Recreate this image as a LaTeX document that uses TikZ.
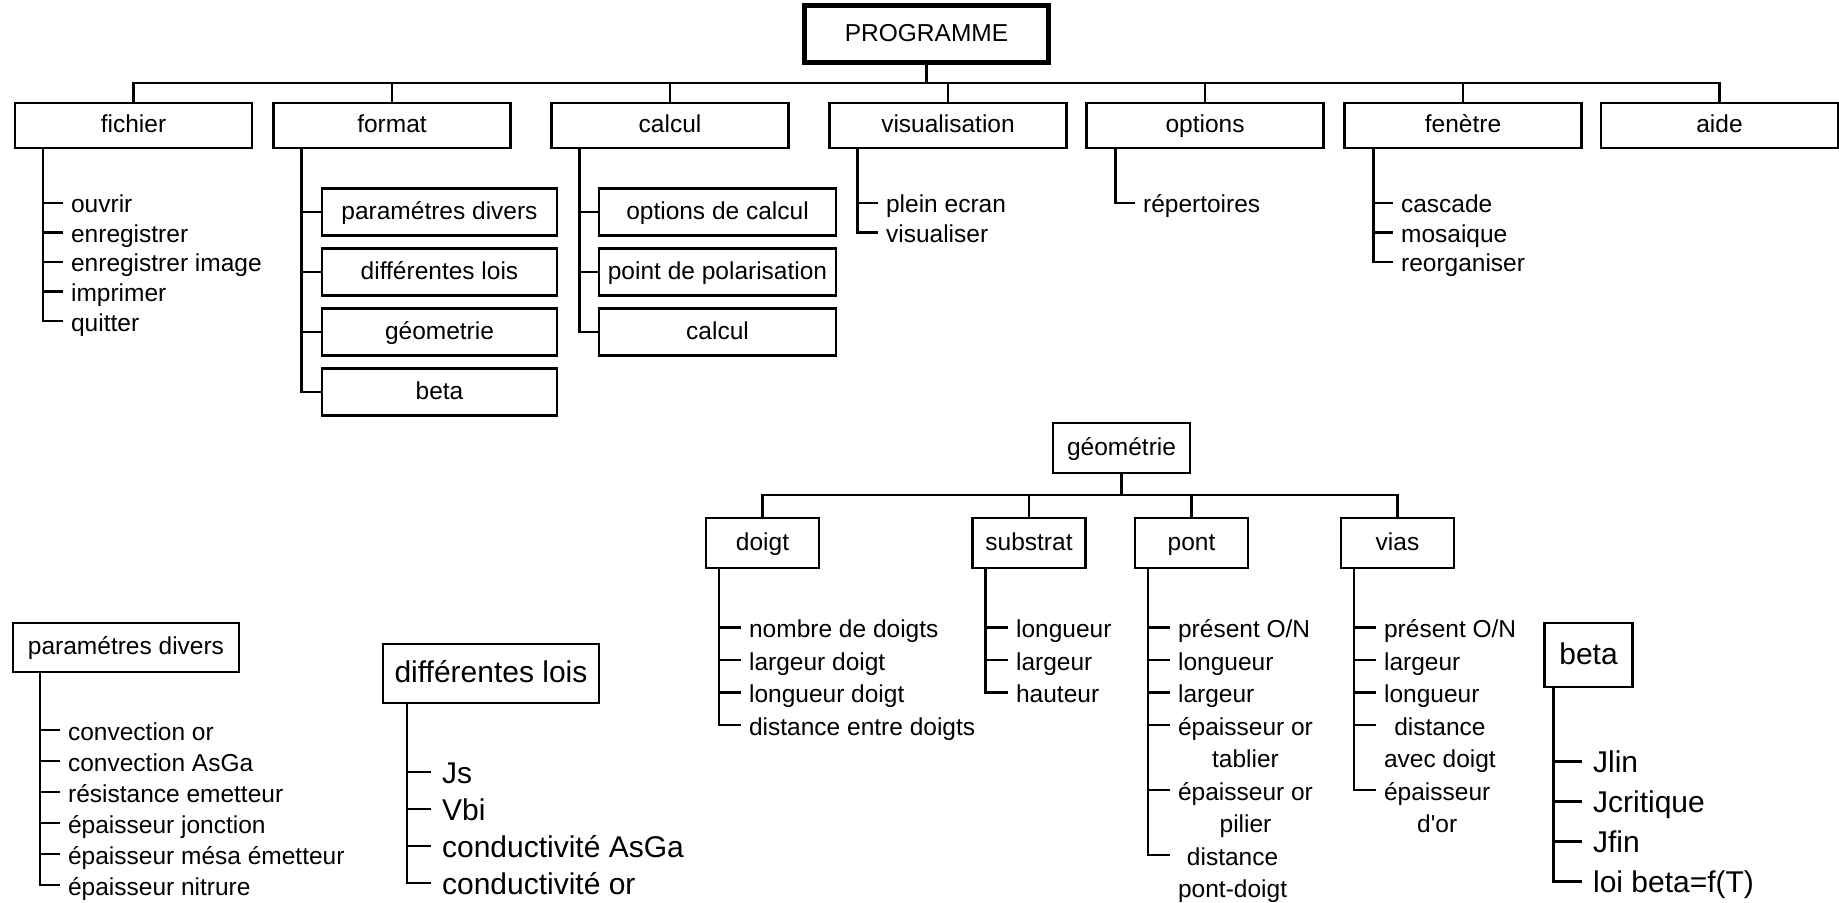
\documentclass[tikz,border=0pt]{standalone}
\usepackage{fontspec}
\setmainfont{Liberation Sans}[Ligatures=TeXOff]
\newcommand{\menufont}{\fontsize{12.25}{14.5}\selectfont}
\newcommand{\bigmenufont}{\fontsize{15}{18}\selectfont}
\tikzset{
  menu/.style={draw, inner sep=0pt, text height=8.8pt, text depth=1.5pt, font=\menufont},
  bigmenu/.style={menu, text height=10.8pt, text depth=1.5pt, font=\bigmenufont},
  item/.style={anchor=base west, inner xsep=3.5pt, inner ysep=0pt, font=\menufont},
  bigitem/.style={item, inner xsep=5pt, font=\bigmenufont},
  under/.style={anchor=base, inner sep=0pt, font=\menufont}
}
\begin{document}
\begin{tikzpicture}[x=0.5pt, y=-0.5pt, line width=1.1pt]
      \fill[white] (0,0) rectangle (1839,903);
      \useasboundingbox (0,0) rectangle (1839,903);
      \node[menu, line width=2pt, minimum width=122.5pt, minimum height=29pt] (prog) at (926.5,34) {PROGRAMME};
      \draw[line width=0.6pt] ([shift={(2.2pt,-2.2pt)}]prog.north west) rectangle ([shift={(-2.2pt,2.2pt)}]prog.south east);
      \foreach \n/\t/\x in {fichier/fichier/133.5, format/format/392, calcul/calcul/670,
          visu/visualisation/948, options/options/1205, fenetre/fenètre/1463, aide/aide/1719.5}
        \node[menu, minimum width=118.5pt, minimum height=22.5pt] (\n) at (\x,125.5) {\t};
      \foreach \n/\t [count=\i] in {fpar/paramétres divers, flois/différentes lois, fgeo/géometrie, fbeta/beta}
        \node[menu, minimum width=117.5pt, minimum height=23.5pt] (\n) at (439.5,152+60*\i) {\t};
      \foreach \n/\t [count=\i] in {copt/options de calcul, cpol/point de polarisation, ccal/calcul}
        \node[menu, minimum width=118.5pt, minimum height=23.5pt] (\n) at (717.5,152+60*\i) {\t};
      \foreach \t [count=\i] in {ouvrir, enregistrer, enregistrer image, imprimer, quitter}
        \node[item] (fi\i) at (63,183.5+29.5*\i) {\t};
      \foreach \t [count=\i] in {plein ecran, visualiser}
        \node[item] (vi\i) at (878,183.5+29.5*\i) {\t};
      \node[item] (op1) at (1135,213) {répertoires};
      \foreach \t [count=\i] in {cascade, mosaique, reorganiser}
        \node[item] (fe\i) at (1393,183.5+29.5*\i) {\t};
      \node[menu, minimum width=68.5pt, minimum height=25pt] (geo) at (1121.5,448) {géométrie};
      \foreach \n/\x in {doigt/762.5, substrat/1029, pont/1191.5, vias/1397.5}
        \node[menu, minimum width=56.5pt, minimum height=25pt] (\n) at (\x,543) {\n};
      \foreach \t [count=\i] in {nombre de doigts, largeur doigt, longueur doigt, distance entre doigts}
        \node[item] (do\i) at (741,605+32.5*\i) {\t};
      \foreach \t [count=\i] in {longueur, largeur, hauteur}
        \node[item] (su\i) at (1008,605+32.5*\i) {\t};
      \foreach \t [count=\i] in {présent O/N, longueur, largeur, épaisseur or}
        \node[item] (po\i) at (1170,605+32.5*\i) {\t};
      \node[under] (po4b) at ([yshift=-16.25pt]po4.base) {tablier};
      \node[item] (po5) at (1170,800) {épaisseur or};
      \node[under] (po5b) at ([yshift=-16.25pt]po5.base) {pilier};
      \node[item] (po6b) at (1170,897.5) {pont-doigt};
      \node[under] (po6) at ([yshift=16.25pt]po6b.base) {distance};
      \foreach \t [count=\i] in {présent O/N, largeur, longueur}
        \node[item] (vs\i) at (1376,605+32.5*\i) {\t};
      \node[item] (vs4b) at (1376,767.5) {avec doigt};
      \node[under] (vs4) at ([yshift=16.25pt]vs4b.base) {distance};
      \node[item] (vs5) at (1376,800) {épaisseur};
      \node[under] (vs5b) at ([yshift=-16.25pt]vs5.base) {d'or};
      \node[menu, minimum width=113pt, minimum height=24.5pt] (pdiv) at (126,647.5) {paramétres divers};
      \foreach \t [count=\i] in {convection or, convection AsGa, résistance emetteur, épaisseur jonction,
          épaisseur mésa émetteur, épaisseur nitrure}
        \node[item] (pd\i) at (60,709+31*\i) {\t};
      \node[bigmenu, minimum width=108pt, minimum height=29.5pt] (dlois) at (491,673.5) {différentes lois};
      \foreach \t [count=\i] in {Js, Vbi, conductivité AsGa, conductivité or}
        \node[bigitem] (dl\i) at (431,746+37*\i) {\t};
      \node[bigmenu, minimum width=44pt, minimum height=32pt] (bbeta) at (1588.5,655) {beta};
      \foreach \t [count=\i] in {Jlin, Jcritique, Jfin, loi beta=f(T)}
        \node[bigitem] (bt\i) at (1582,732.5+40*\i) {\t};
      \coordinate (bus) at (0,83);
      \coordinate (gbus) at (0,495);
      \coordinate (fv) at ([xshift=14.5pt]format.south west);
      \coordinate (cv) at ([xshift=14.5pt]calcul.south west);
      \coordinate (fiv) at ([xshift=14.5pt]fichier.south west);
      \coordinate (viv) at ([xshift=14.5pt]visu.south west);
      \coordinate (opv) at ([xshift=15pt]options.south west);
      \coordinate (fev) at ([xshift=15pt]fenetre.south west);
      \coordinate (dov) at ([xshift=7pt]doigt.south west);
      \coordinate (suv) at ([xshift=7pt]substrat.south west);
      \coordinate (pov) at ([xshift=7pt]pont.south west);
      \coordinate (vsv) at ([xshift=7pt]vias.south west);
      \coordinate (pdv) at ([xshift=14pt]pdiv.south west);
      \coordinate (dlv) at ([xshift=12.5pt]dlois.south west);
      \coordinate (btv) at ([xshift=5pt]bbeta.south west);
      \begin{scope}[-]
        \draw (prog.south) -- (prog.south |- bus);
        \draw (fichier.north) |- (aide.north |- bus) -- (aide.north);
        \foreach \n in {format,calcul,visu,options,fenetre}
          \draw (\n.north) -- (\n.north |- bus);
        \draw (fv) |- (fbeta.west);
        \foreach \n in {fpar,flois,fgeo}
          \draw (\n.west) -- (\n.west -| fv);
        \draw (cv) |- (ccal.west);
        \foreach \n in {copt,cpol}
          \draw (\n.west) -- (\n.west -| cv);
        \draw (fiv) |- ([yshift=5pt]fi5.base west);
        \foreach \i in {1,...,4}
          \draw ([yshift=5pt]fi\i.base west) -- ([yshift=5pt]fi\i.base west -| fiv);
        \draw (viv) |- ([yshift=5pt]vi2.base west);
        \draw ([yshift=5pt]vi1.base west) -- ([yshift=5pt]vi1.base west -| viv);
        \draw (opv) |- ([yshift=5pt]op1.base west);
        \draw (fev) |- ([yshift=5pt]fe3.base west);
        \foreach \i in {1,2}
          \draw ([yshift=5pt]fe\i.base west) -- ([yshift=5pt]fe\i.base west -| fev);
        \draw (geo.south) -- (geo.south |- gbus);
        \draw (doigt.north) |- (vias.north |- gbus) -- (vias.north);
        \foreach \n in {substrat,pont}
          \draw (\n.north) -- (\n.north |- gbus);
        \draw (dov) |- ([yshift=5pt]do4.base west);
        \foreach \i in {1,2,3}
          \draw ([yshift=5pt]do\i.base west) -- ([yshift=5pt]do\i.base west -| dov);
        \draw (suv) |- ([yshift=5pt]su3.base west);
        \foreach \i in {1,2}
          \draw ([yshift=5pt]su\i.base west) -- ([yshift=5pt]su\i.base west -| suv);
        \draw (pov) |- ([yshift=21.25pt]po6b.base west);
        \foreach \n in {po1,po2,po3,po4,po5}
          \draw ([yshift=5pt]\n.base west) -- ([yshift=5pt]\n.base west -| pov);
        \draw (vsv) |- ([yshift=5pt]vs5.base west);
        \foreach \n in {vs1,vs2,vs3}
          \draw ([yshift=5pt]\n.base west) -- ([yshift=5pt]\n.base west -| vsv);
        \draw ([yshift=21.25pt]vs4b.base west) -- ([yshift=21.25pt]vs4b.base west -| vsv);
        \draw (pdv) |- ([yshift=5pt]pd6.base west);
        \foreach \i in {1,...,5}
          \draw ([yshift=5pt]pd\i.base west) -- ([yshift=5pt]pd\i.base west -| pdv);
        \draw (dlv) |- ([yshift=5.5pt]dl4.base west);
        \foreach \i in {1,2,3}
          \draw ([yshift=5.5pt]dl\i.base west) -- ([yshift=5.5pt]dl\i.base west -| dlv);
        \draw (btv) |- ([yshift=5.5pt]bt4.base west);
        \foreach \i in {1,2,3}
          \draw ([yshift=5.5pt]bt\i.base west) -- ([yshift=5.5pt]bt\i.base west -| btv);
      \end{scope}
    \end{tikzpicture}
\end{document}
